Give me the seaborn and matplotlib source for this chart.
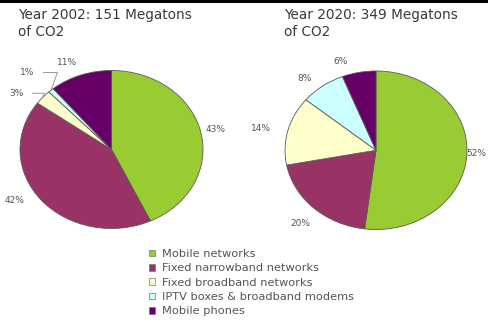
import numpy as np
import matplotlib
matplotlib.use("Agg")
import matplotlib.pyplot as plt
from matplotlib.patches import Patch, Rectangle
import seaborn as sns

# Network categories and their shares of CO2 emissions (%)
categories = [
    "Mobile networks",
    "Fixed narrowband networks",
    "Fixed broadband networks",
    "IPTV boxes & broadband modems",
    "Mobile phones",
]
share_2002 = [43, 42, 3, 1, 11]
share_2020 = [52, 20, 14, 8, 6]
title_2002 = "Year 2002: 151 Megatons\nof CO2"
title_2020 = "Year 2020: 349 Megatons\nof CO2"

colors = ["#99CC33", "#993366", "#FFFFCC", "#CCFFFF", "#660066"]

sns.set_style("white")
plt.rcParams["font.family"] = ["DejaVu Sans"]

W, H = 489, 327
fig = plt.figure(figsize=(W / 100, H / 100), dpi=100)
fig.patch.set_facecolor("white")

# thin dark strip along the top edge
fig.patches.append(Rectangle((0, 1 - 3 / H), 1, 3 / H, transform=fig.transFigure,
                             facecolor="black", edgecolor="none", zorder=10))


def px_axes(left, top, right, bottom):
    return fig.add_axes([left / W, 1 - bottom / H, (right - left) / W, (bottom - top) / H])


def draw_pie(ax, values, radius_list, shift_list, leader):
    wedges, _ = ax.pie(values, colors=colors, startangle=90, counterclock=False,
                       radius=1.0,
                       wedgeprops=dict(edgecolor="#5a5a5a", linewidth=0.6))
    ax.set_aspect("auto")
    ax.set_xlim(-1, 1)
    ax.set_ylim(-1, 1)
    ax.axis("off")
    for w, v, r, s, lead in zip(wedges, values, radius_list, shift_list, leader):
        mid = np.deg2rad((w.theta1 + w.theta2) / 2)
        ang = mid + np.deg2rad(s)
        tx, ty = r * np.cos(ang), r * np.sin(ang)
        if lead:
            ex, ey = np.cos(mid), np.sin(mid)
            ax.annotate(f"{v}%", xy=(ex, ey), xytext=(tx, ty),
                        ha="center", va="center", fontsize=6.5, color="#555555",
                        arrowprops=dict(arrowstyle="-", color="#8a8a8a", lw=0.6,
                                        shrinkA=4, shrinkB=0,
                                        connectionstyle="angle,angleA=0,angleB=70"))
        else:
            ax.text(tx, ty, f"{v}%", ha="center", va="center",
                    fontsize=6.5, color="#555555")


ax1 = px_axes(20, 70.5, 203, 228.5)
draw_pie(ax1, share_2002,
         [1.16, 1.24, 1.26, 1.34, 1.21],
         [0, -8.5, 7, 2, 4],
         [False, False, True, True, False])

ax2 = px_axes(285, 71, 467, 229.5)
draw_pie(ax2, share_2020,
         [1.1, 1.24, 1.29, 1.2, 1.18],
         [1.6, 1.2, 2, 4.6, 8.2],
         [False] * 5)

fig.text(18 / W, 1 - 7.5 / H, title_2002, ha="left", va="top", fontsize=9.8,
         color="#3a3a3a", linespacing=1.32)
fig.text(284 / W, 1 - 7.5 / H, title_2020, ha="left", va="top", fontsize=9.8,
         color="#3a3a3a", linespacing=1.32)

handles = [Patch(facecolor=c, edgecolor="#777777", linewidth=0.5) for c in colors]
fig.legend(handles, categories, loc="upper left",
           bbox_to_anchor=(149 / W, 1 - 249 / H), frameon=False,
           fontsize=8.2, labelcolor="#555555", handlelength=0.55, handleheight=0.55,
           handletextpad=0.6, labelspacing=0.38, borderpad=0, borderaxespad=0)

fig.savefig("out.png", dpi=100, facecolor="white")
